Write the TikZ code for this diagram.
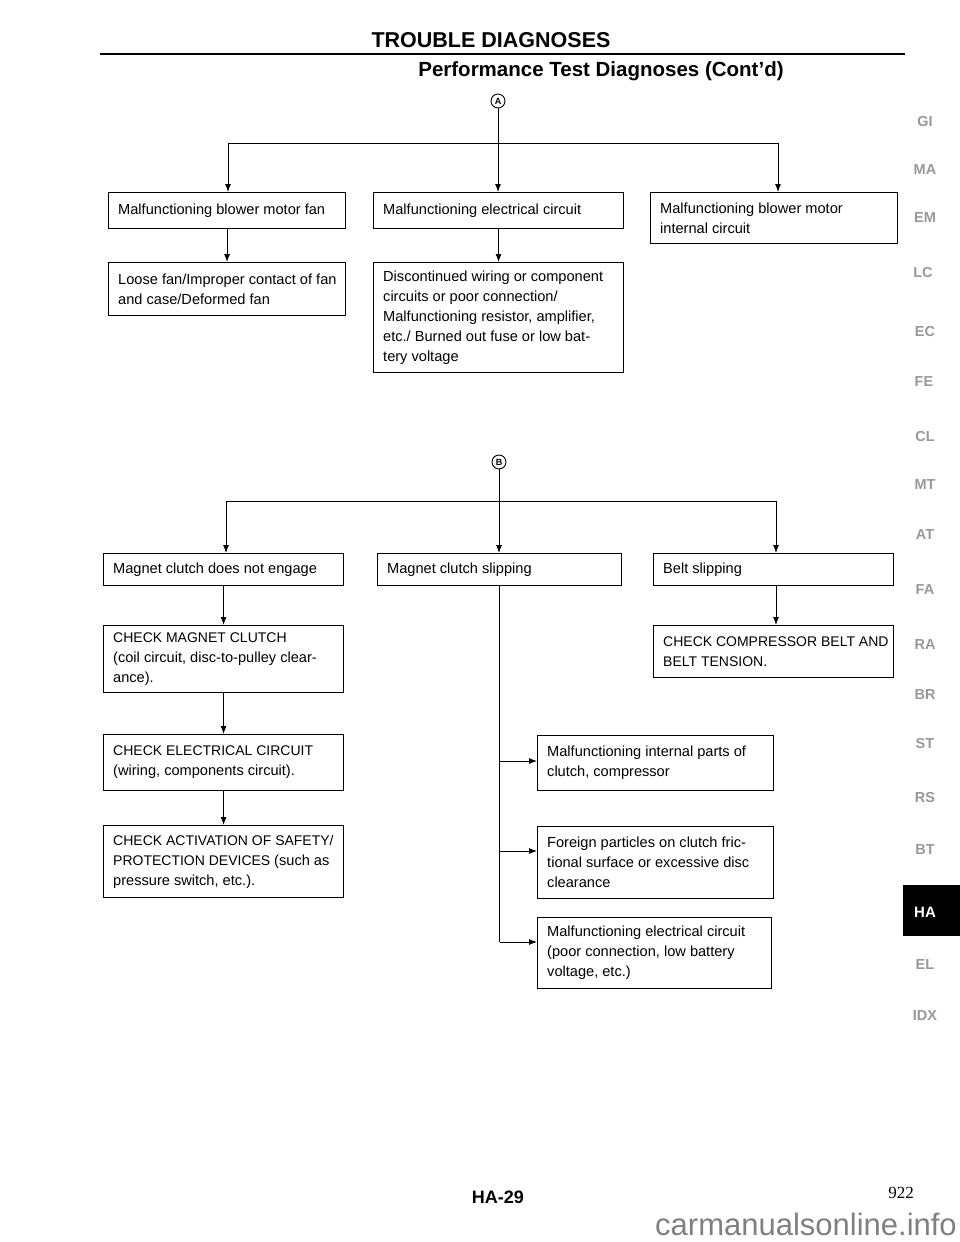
\documentclass[tikz,border=0pt]{standalone}
\usepackage{fontspec}
\setmainfont{Liberation Sans}
\newfontfamily\serifnum{Liberation Serif}
\usetikzlibrary{arrows.meta}
\newcommand\lc{\fontsize{14.6}{20}\selectfont}
\tikzset{
  boxs/.style={draw, line width=1.1pt, inner sep=0pt, rectangle},
  txt/.style={align=left, inner sep=0pt, font=\lc},
  capt/.style={font=\fontsize{14}{20}\selectfont},
  arr/.style={line width=0.9pt, -{Latex[length=8pt,width=6pt]}},
  ln/.style={line width=0.9pt},
  circ/.style={draw, circle, line width=0.9pt, minimum size=14pt, inner sep=0pt, font=\bfseries\fontsize{9}{9}\selectfont},
  tab/.style={text=black!40, font=\bfseries\fontsize{14.5}{14.5}\selectfont, inner sep=0pt},
}
\newcommand\pbox[7][]{%
  \node[boxs, minimum width=#5pt, minimum height=#6pt, anchor=north west] (#2) at (#3,#4) {};
  \node[txt, anchor=west, #1] (#2t) at ([xshift=10pt]#2.west) {#7};}
\begin{document}
\begin{tikzpicture}[x=1pt,y=-1pt]
\useasboundingbox[fill=white] (0,0) rectangle (960,1242);
% header
\node[font=\bfseries\fontsize{21.5}{21.5}\selectfont, inner sep=0pt] (h1) at (491,40) {TROUBLE DIAGNOSES};
\draw[line width=2.6pt] (100,54) coordinate (r1) -- (905,54) coordinate (r2);
\node[font=\bfseries\fontsize{20.5}{20.5}\selectfont, inner sep=0pt] (h2) at (601,71) {Performance Test Diagnoses (Cont'd)};

% ---------- section A ----------
\node[circ] (cA) at (498,101) {A};
\coordinate (hA1) at (228,143);
\coordinate (hA2) at (778,143);
\coordinate (hA3) at (498,143);
\pbox{a1}{108}{192}{237}{36}{Malfunctioning blower motor fan}
\pbox{a2}{373}{192}{250}{36}{Malfunctioning electrical circuit}
\pbox{a3}{650}{192}{247}{51}{Malfunctioning blower motor\\internal circuit}
\pbox{a4}{108}{262}{237}{53}{Loose fan/Improper contact of fan\\and case/Deformed fan}
\pbox{a5}{373}{262}{250}{110}{Discontinued wiring or component\\circuits or poor connection/\\Malfunctioning resistor, amplifier,\\etc./ Burned out fuse or low bat-\\tery voltage}
\draw[ln] (cA) -- (hA3);
\draw[ln] (hA1) -- (hA2);
\draw[arr] (hA1) -- (hA1 |- a1.north);
\draw[arr] (hA3) -- (hA3 |- a2.north);
\draw[arr] (hA2) -- (hA2 |- a3.north);
\draw[arr] (a1) -- (a4);
\draw[arr] (a2) -- (a5);

% ---------- section B ----------
\node[circ] (cB) at (499,462) {B};
\coordinate (hB1) at (226,501);
\coordinate (hB2) at (776,501);
\coordinate (hB3) at (499,501);
\pbox{b1}{103}{553}{240}{32}{Magnet clutch does not engage}
\pbox{b2}{377}{553}{244}{32}{Magnet clutch slipping}
\pbox{b3}{653}{553}{240}{32}{Belt slipping}
\pbox[capt]{b4}{103}{625}{240}{67}{CHECK MAGNET CLUTCH\\\lc(coil circuit, disc-to-pulley clear-\\\lc ance).}
\pbox[capt]{b5}{653}{625}{240}{52}{CHECK COMPRESSOR BELT AND\\BELT TENSION.}
\pbox[capt]{b6}{103}{734}{240}{56}{CHECK ELECTRICAL CIRCUIT\\\lc(wiring, components circuit).}
\pbox[capt]{b7}{103}{825}{240}{72}{CHECK ACTIVATION OF SAFETY/\\PROTECTION DEVICES \lc(such as\\\lc pressure switch, etc.).}
\pbox{c1}{537}{735}{236}{55}{Malfunctioning internal parts of\\clutch, compressor}
\pbox{c2}{537}{826}{236}{72}{Foreign particles on clutch fric-\\tional surface or excessive disc\\clearance}
\pbox{c3}{537}{917}{234}{71}{Malfunctioning electrical circuit\\(poor connection, low battery\\voltage, etc.)}
\draw[ln] (cB) -- (hB3);
\draw[ln] (hB1) -- (hB2);
\draw[arr] (hB1) -- (hB1 |- b1.north);
\draw[arr] (hB3) -- (hB3 |- b2.north);
\draw[arr] (hB2) -- (hB2 |- b3.north);
\draw[arr] (b1) -- (b4);
\draw[arr] (b4) -- (b6);
\draw[arr] (b6) -- (b7);
\draw[arr] (b3.south -| hB2) -- (b5.north -| hB2);
\coordinate (k1) at ([yshift=-26pt]c1.north west);
\coordinate (k2) at ([yshift=-25pt]c2.north west);
\coordinate (k3) at ([yshift=-25pt]c3.north west);
\draw[ln] (b2.south) -- (b2.south |- k3);
\draw[arr] (b2.south |- k1) -- (k1);
\draw[arr] (b2.south |- k2) -- (k2);
\draw[arr] (b2.south |- k3) -- (k3);

% ---------- side tabs ----------
\node[tab] (t1) at (925,122) {GI};
\node[tab] (t2) at (925,170) {MA};
\node[tab] (t3) at (925,218) {EM};
\node[tab] (t4) at (923,273) {LC};
\node[tab] (t5) at (925,332) {EC};
\node[tab] (t6) at (924,382) {FE};
\node[tab] (t7) at (925,437) {CL};
\node[tab] (t8) at (925,485) {MT};
\node[tab] (t9) at (925,535) {AT};
\node[tab] (t10) at (925,590) {FA};
\node[tab] (t11) at (925,645) {RA};
\node[tab] (t12) at (925,695) {BR};
\node[tab] (t13) at (925,743) {ST};
\node[tab] (t14) at (925,797) {RS};
\node[tab] (t15) at (925,850) {BT};
\fill[black] (903,885) rectangle (960,936);
\node[text=white, font=\bfseries\fontsize{15}{15}\selectfont, inner sep=0pt] (t16) at (925,912) {HA};
\node[tab] (t17) at (925,965) {EL};
\node[tab] (t18) at (925,1015) {IDX};

% ---------- footer ----------
\node[font=\bfseries\fontsize{18}{18}\selectfont, inner sep=0pt] (f1) at (498,1197) {HA-29};
\node[font=\serifnum\fontsize{17}{17}\selectfont, inner sep=0pt] (f2) at (901,1193) {922};
\node[text=black!50, font=\fontsize{31}{31}\selectfont, inner sep=0pt] (f3) at (806,1224) {carmanualsonline.info};
\end{tikzpicture}
\end{document}
